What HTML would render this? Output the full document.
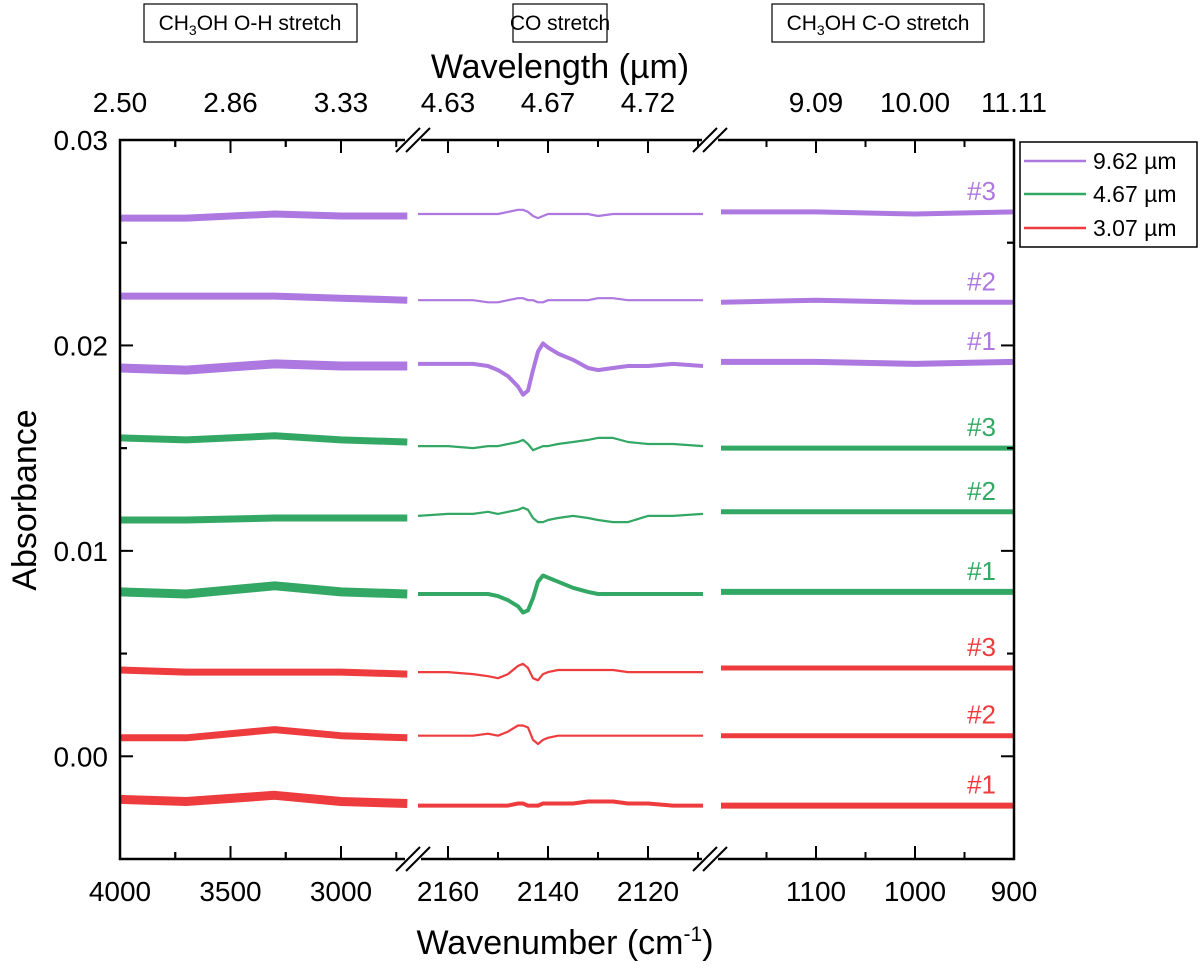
<!DOCTYPE html>
<html><head><meta charset="utf-8"><style>
body{margin:0;background:#fff}
svg text{font-family:"Liberation Sans",Arial,sans-serif}
</style></head><body>
<svg id="chart" width="1200" height="972" viewBox="0 0 1200 972" xmlns="http://www.w3.org/2000/svg">
<g id="marks"></g>
<g id="axes"></g>
</svg>
<script>
// ---- data ----
const yTicks = [0.00, 0.01, 0.02, 0.03];
const p1Ticks = [4000, 3500, 3000];
const p2Ticks = [2160, 2140, 2120];
const p3Ticks = [1100, 1000, 900];
const topP1Labels = ["2.50", "2.86", "3.33"];
const topP2Labels = ["4.63", "4.67", "4.72"];
const topP3Labels = ["9.09", "10.00", "11.11"];
const seriesNames = ["purple-3","purple-2","purple-1","green-3","green-2","green-1","red-3","red-2","red-1"];
const seriesLabels = ["#3","#2","#1","#3","#2","#1","#3","#2","#1"];
// panel 1 (O-H region) anchor values
const p1X = [4000, 3700, 3300, 3000, 2700];
const p1Vals = [
 [0.0262,0.0262,0.0264,0.0263,0.0263],
 [0.0224,0.0224,0.0224,0.0223,0.0222],
 [0.0189,0.0188,0.0191,0.0190,0.0190],
 [0.0155,0.0154,0.0156,0.0154,0.0153],
 [0.0115,0.0115,0.0116,0.0116,0.0116],
 [0.0080,0.0079,0.0083,0.0080,0.0079],
 [0.0042,0.0041,0.0041,0.0041,0.0040],
 [0.0009,0.0009,0.0013,0.0010,0.0009],
 [-0.0021,-0.0022,-0.0019,-0.0022,-0.0023]
];
// panel 2 (CO region)
const p2X = [2166,2160,2155,2152,2150,2148,2146,2145,2144,2143,2142,2141,2140,2138,2135,2132,2130,2127,2124,2120,2115,2109];
const p2Vals = [
 [0.0264,0.0264,0.0264,0.0264,0.0264,0.0265,0.0266,0.0266,0.0265,0.0263,0.0262,0.0263,0.0264,0.0264,0.0264,0.0264,0.0263,0.0264,0.0264,0.0264,0.0264,0.0264],
 [0.0222,0.0222,0.0222,0.0221,0.0221,0.0222,0.0223,0.0223,0.0222,0.0222,0.0221,0.0221,0.0222,0.0222,0.0222,0.0222,0.0223,0.0223,0.0222,0.0222,0.0222,0.0222],
 [0.0191,0.0191,0.0191,0.0190,0.0188,0.0185,0.0180,0.0176,0.0178,0.0188,0.0197,0.0201,0.0199,0.0196,0.0193,0.0189,0.0188,0.0189,0.0190,0.0190,0.0191,0.0190],
 [0.0151,0.0151,0.0150,0.0151,0.0151,0.0152,0.0153,0.0154,0.0152,0.0149,0.0150,0.0151,0.0151,0.0152,0.0153,0.0154,0.0155,0.0155,0.0153,0.0152,0.0152,0.0151],
 [0.0117,0.0118,0.0118,0.0119,0.0118,0.0119,0.0120,0.0121,0.0120,0.0116,0.0114,0.0114,0.0115,0.0116,0.0117,0.0116,0.0115,0.0114,0.0114,0.0117,0.0117,0.0118],
 [0.0079,0.0079,0.0079,0.0079,0.0078,0.0076,0.0073,0.0070,0.0071,0.0077,0.0085,0.0088,0.0087,0.0085,0.0082,0.0080,0.0079,0.0079,0.0079,0.0079,0.0079,0.0079],
 [0.0041,0.0041,0.0040,0.0039,0.0038,0.0040,0.0044,0.0045,0.0043,0.0038,0.0037,0.0040,0.0041,0.0042,0.0042,0.0042,0.0042,0.0042,0.0041,0.0041,0.0041,0.0041],
 [0.0010,0.0010,0.0010,0.0011,0.0010,0.0012,0.0015,0.0015,0.0014,0.0008,0.0006,0.0008,0.0009,0.0010,0.0010,0.0010,0.0010,0.0010,0.0010,0.0010,0.0010,0.0010],
 [-0.0024,-0.0024,-0.0024,-0.0024,-0.0024,-0.0024,-0.0023,-0.0023,-0.0024,-0.0024,-0.0024,-0.0023,-0.0023,-0.0023,-0.0023,-0.0022,-0.0022,-0.0022,-0.0023,-0.0023,-0.0024,-0.0024]
];
// panel 3 (C-O region)
const p3X = [1196, 1100, 1000, 900];
const p3Vals = [
 [0.0265,0.0265,0.0264,0.0265],
 [0.0221,0.0222,0.0221,0.0221],
 [0.0192,0.0192,0.0191,0.0192],
 [0.0150,0.0150,0.0150,0.0150],
 [0.0119,0.0119,0.0119,0.0119],
 [0.0080,0.0080,0.0080,0.0080],
 [0.0043,0.0043,0.0043,0.0043],
 [0.0010,0.0010,0.0010,0.0010],
 [-0.0024,-0.0024,-0.0024,-0.0024]
];

// ---- geometry ----
const NS="http://www.w3.org/2000/svg";
const colors={purple:"#ad78df",green:"#33a865",red:"#ee3c3e"};
const L=120,R=1014,T=140,B=859;
const y=v=>T+(0.03-v)/0.035*(B-T);
const x1=w=>120+(4000-w)*(341-120)/1000;
const x2=w=>448+(2160-w)*5;
const x3=w=>816+(1100-w)*0.99;
const P1=[120,406],P2=[421,702],P3=[722,1014];
function el(tag,attrs,parent){const e=document.createElementNS(NS,tag);for(const k in attrs)e.setAttribute(k,attrs[k]);parent.appendChild(e);return e;}
const marks=document.getElementById('marks');
const axes=document.getElementById('axes');
function colorOf(i){return i<3?colors.purple:i<6?colors.green:colors.red;}
function pathFrom(xs,vals,fx){return xs.map((w,j)=>(j?'L':'M')+fx(w).toFixed(1)+','+y(vals[j]).toFixed(1)).join(' ');}

seriesNames.forEach((nm,i)=>{
  const c=colorOf(i);const thick=(i%3===2);
  const g=el('g',{},marks);
  
  
  const a=el('path',{d:pathFrom(p1X,p1Vals[i],x1),stroke:c,'stroke-width':thick?9:7,fill:'none','stroke-linejoin':'round'},g);
  
  
  const b=el('path',{d:pathFrom(p2X,p2Vals[i],x2),stroke:c,'stroke-width':thick?4:2.2,fill:'none','stroke-linejoin':'round'},g);
  
  
  const d=el('path',{d:pathFrom(p3X,p3Vals[i],x3),stroke:c,'stroke-width':thick?6:5,fill:'none','stroke-linejoin':'round'},g);
  
  
  const t=el('text',{x:996,y:y(p3Vals[i][3])-12,'font-size':26,fill:c,'text-anchor':'end'},g);
  t.textContent=seriesLabels[i];
  
  
});
// frame
const f=el('path',{d:`M${L},${T}H${R}V${B}H${L}Z`,stroke:'#000','stroke-width':2.5,fill:'none'},axes);


// break marks
[413,710].forEach((bx,k)=>{
  [T,B].forEach(by=>{
    el('rect',{x:bx-8,y:by-3,width:16,height:6,fill:'#fff'},axes);
    [-5,5].forEach(o=>{
      const ln=el('line',{x1:bx+o-12,y1:by+12,x2:bx+o+12,y2:by-12,stroke:'#000','stroke-width':2},axes);
      
      
    });
  });
});
// x ticks
function xt(xs,fx,minorStep,range,topLabels,pname){
  xs.forEach((w,j)=>{
    const px=fx(w);
    el('line',{x1:px,y1:B,x2:px,y2:B-13,stroke:'#000','stroke-width':2},axes);
    el('line',{x1:px,y1:T,x2:px,y2:T+13,stroke:'#000','stroke-width':2},axes);
    const t=el('text',{x:px,y:B+42,'font-size':28,'text-anchor':'middle'},axes);
    t.textContent=w;
    
    
    const u=el('text',{x:px,y:T-28,'font-size':28,'text-anchor':'middle'},axes);
    u.textContent=topLabels[j];
    
    
    [w-minorStep,w+minorStep].forEach(m=>{
      const mx=fx(m);
      if(mx>range[0]+4&&mx<range[1]-2){
        el('line',{x1:mx,y1:B,x2:mx,y2:B-7,stroke:'#000','stroke-width':2},axes);
        el('line',{x1:mx,y1:T,x2:mx,y2:T+7,stroke:'#000','stroke-width':2},axes);
      }
    });
  });
}
xt(p1Ticks,x1,250,P1,topP1Labels,'oh');
xt(p2Ticks,x2,10,P2,topP2Labels,'co');
xt(p3Ticks,x3,50,P3,topP3Labels,'c-o');
// y ticks
yTicks.forEach(v=>{
  const py=y(v);
  el('line',{x1:L,y1:py,x2:L+13,y2:py,stroke:'#000','stroke-width':2},axes);
  el('line',{x1:R,y1:py,x2:R-13,y2:py,stroke:'#000','stroke-width':2},axes);
  const t=el('text',{x:L-12,y:py+10,'font-size':28,'text-anchor':'end'},axes);
  t.textContent=v.toFixed(2);
  
  
  [v-0.005,v+0.005].forEach(m=>{const my=y(m);if(my>T+2&&my<B-2){
    el('line',{x1:L,y1:my,x2:L+7,y2:my,stroke:'#000','stroke-width':2},axes);
    el('line',{x1:R,y1:my,x2:R-7,y2:my,stroke:'#000','stroke-width':2},axes);}});
});
</script>
<svg style="position:absolute;left:0;top:0" width="1200" height="972">
<text x="560" y="78" font-size="34" text-anchor="middle" font-family="Liberation Sans, sans-serif">Wavelength (µm)</text>
<text x="565" y="954" font-size="34" text-anchor="middle" font-family="Liberation Sans, sans-serif">Wavenumber (cm<tspan dy="-13" font-size="21">-1</tspan><tspan dy="13">)</tspan></text>
<text transform="translate(36,500) rotate(-90)" font-size="34" text-anchor="middle" font-family="Liberation Sans, sans-serif">Absorbance</text>
<g>
<rect x="144" y="4" width="213" height="38" fill="#fff" stroke="#000" stroke-width="1.2"/>
<text x="250" y="30" font-size="21" text-anchor="middle" font-family="Liberation Sans, sans-serif">CH<tspan dy="5" font-size="14">3</tspan><tspan dy="-5">OH O-H stretch</tspan></text>
</g>
<g>
<rect x="513" y="4" width="94" height="38" fill="#fff" stroke="#000" stroke-width="1.2"/>
<text x="560" y="30" font-size="21" text-anchor="middle" font-family="Liberation Sans, sans-serif">CO stretch</text>
</g>
<g>
<rect x="772" y="4" width="212" height="38" fill="#fff" stroke="#000" stroke-width="1.2"/>
<text x="878" y="30" font-size="21" text-anchor="middle" font-family="Liberation Sans, sans-serif">CH<tspan dy="5" font-size="14">3</tspan><tspan dy="-5">OH C-O stretch</tspan></text>
</g>
<g font-family="Liberation Sans, sans-serif">
<rect x="1020" y="142" width="177" height="105" fill="#fff" stroke="#000" stroke-width="1.5"/>
<line x1="1024" y1="161" x2="1086" y2="161" stroke="#ad78df" stroke-width="2.5"/>
<text x="1093" y="169" font-size="23">9.62 µm</text>
<line x1="1024" y1="194" x2="1086" y2="194" stroke="#33a865" stroke-width="2.5"/>
<text x="1093" y="202" font-size="23">4.67 µm</text>
<line x1="1024" y1="228" x2="1086" y2="228" stroke="#ee3c3e" stroke-width="2.5"/>
<text x="1093" y="236" font-size="23">3.07 µm</text>
</g>
</svg>
</body></html>
